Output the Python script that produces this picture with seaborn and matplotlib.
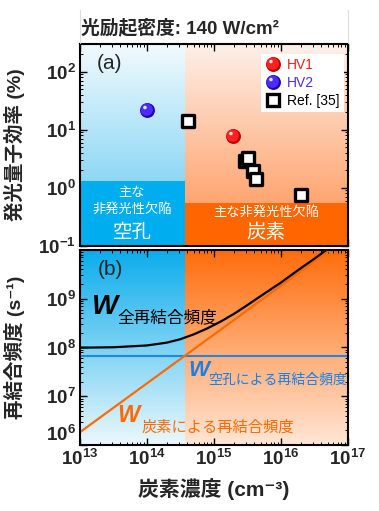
import numpy as np
import matplotlib
matplotlib.use('Agg')
import matplotlib.pyplot as plt
import seaborn as sns
from matplotlib.path import Path
from matplotlib.lines import Line2D
from matplotlib.legend_handler import HandlerTuple
from matplotlib.ticker import LogLocator, NullFormatter

# ---- panel (a): photoluminescence quantum efficiency ----
hv1_conc = [1.9e15]
hv1_eff = [7.8]
hv2_conc = [1.0e14]
hv2_eff = [22.0]
ref_conc = [4.1e14, 2.9e15, 3.2e15, 3.8e15, 4.3e15, 2.0e16]
ref_eff = [14.0, 2.9, 3.3, 1.95, 1.4, 0.76]

# ---- panel (b): recombination rates ----
total_conc = [1e13, 3.16e13, 1e14, 2e14, 3.16e14, 5e14, 7.9e14, 1.26e15, 2e15,
              3.16e15, 5.6e15, 1e16, 1.78e16, 3.16e16, 5.6e16]
total_rate = [9.9e7, 1.01e8, 1.10e8, 1.26e8, 1.48e8, 1.86e8, 2.45e8, 3.4e8, 4.9e8,
              7.4e8, 1.26e9, 2.14e9, 3.8e9, 6.6e9, 1.17e10]
vac_conc = [1e13, 1e17]
vac_rate = [6.8e7, 6.8e7]
carbon_conc = [1e13, 5.6e16]
carbon_rate = [1.84e6, 1.03e10]

boundary_conc = 3.7e14   # vacancy dominated | carbon dominated
vac_box_top = 1.3
carbon_box_top = 0.55

x_ticks = [1e13, 1e14, 1e15, 1e16, 1e17]
x_labels = [r'$\mathbf{10^{13}}$', r'$\mathbf{10^{14}}$', r'$\mathbf{10^{15}}$',
            r'$\mathbf{10^{16}}$', r'$\mathbf{10^{17}}$']
ya_ticks = [1e-1, 1e0, 1e1, 1e2]
ya_labels = [r'$\mathbf{10^{-1}}$', r'$\mathbf{10^{0}}$', r'$\mathbf{10^{1}}$', r'$\mathbf{10^{2}}$']
yb_ticks = [1e6, 1e7, 1e8, 1e9]
yb_labels = [r'$\mathbf{10^{6}}$', r'$\mathbf{10^{7}}$', r'$\mathbf{10^{8}}$', r'$\mathbf{10^{9}}$']

sns.set_style('ticks')
plt.rcParams['font.family'] = ['Liberation Sans', 'Noto Sans CJK JP', 'DejaVu Sans']
plt.rcParams['mathtext.fontset'] = 'custom'
plt.rcParams['mathtext.bf'] = 'Liberation Sans:bold'
plt.rcParams['mathtext.rm'] = 'Liberation Sans'
plt.rcParams['mathtext.it'] = 'Liberation Sans:italic'

BLUE = '#00aeef'
ORANGE = '#ff6600'
XLIM = (1e13, 1e17)

fig = plt.figure(figsize=(3.79, 5.11), dpi=100)
ax_a = fig.add_axes([0.211, 0.519, 0.707, 0.395])
ax_b = fig.add_axes([0.211, 0.129, 0.707, 0.382])

bf = (np.log10(boundary_conc) - np.log10(XLIM[0])) / (np.log10(XLIM[1]) - np.log10(XLIM[0]))


def gradient(ax, x0, x1, top, bottom):
    t = np.linspace(0, 1, 256)[:, None, None]
    img = (np.array(top)[None, None, :] * (1 - t) + np.array(bottom)[None, None, :] * t) / 255.0
    ax.imshow(img, extent=[x0, x1, 0, 1], transform=ax.transAxes, aspect='auto',
              zorder=0, interpolation='bilinear')


def disc(cx, cy, r):
    anchor = Path([(-1, -1), (1, 1)], [Path.MOVETO, Path.MOVETO])
    return Path.make_compound_path(anchor, Path.circle((cx, cy), r))


shade = disc(-0.12, 0.12, 0.84)
shine = disc(-0.34, 0.40, 0.24)


def sphere(ax, x, y, dark, light, s=115):
    sns.scatterplot(x=x, y=y, ax=ax, s=s, color=dark, marker='o', linewidth=0, zorder=4)
    sns.scatterplot(x=x, y=y, ax=ax, s=s, color=light, marker=shade, linewidth=0, zorder=5)
    sns.scatterplot(x=x, y=y, ax=ax, s=s, color='white', marker=shine, linewidth=0,
                    alpha=0.85, zorder=6)


for ax in (ax_a, ax_b):
    ax.set_xscale('log')
    ax.set_yscale('log')
    ax.set_autoscale_on(False)

ax_a.set_xlim(*XLIM)
ax_a.set_ylim(0.1, 300)
ax_b.set_xlim(*XLIM)
ax_b.set_ylim(1e6, 1e10)

# ---- backgrounds ----
gradient(ax_a, 0, bf, (242, 250, 254), (95, 200, 240))
gradient(ax_a, bf, 1, (253, 240, 233), (255, 145, 80))
ax_a.fill_between([XLIM[0], boundary_conc], 0.1, vac_box_top, color=BLUE, lw=0, zorder=1)
ax_a.fill_between([boundary_conc, XLIM[1]], 0.1, carbon_box_top, color=ORANGE, lw=0, zorder=1)

gradient(ax_b, 0, bf, (10, 172, 236), (236, 248, 253))
gradient(ax_b, bf, 1, (255, 108, 10), (255, 230, 214))

# ---- panel (a) data ----
sphere(ax_a, hv1_conc, hv1_eff, '#c00000', '#ff2020')
sphere(ax_a, hv2_conc, hv2_eff, '#2400b0', '#4a2cff')
sns.scatterplot(x=ref_conc, y=ref_eff, ax=ax_a, marker='s', s=85, color='white',
                edgecolor='black', linewidth=2.4, zorder=4)

ms = np.sqrt(115)
h_hv1 = (Line2D([], [], ls='', marker='o', ms=ms, mfc='#c00000', mec='none'),
         Line2D([], [], ls='', marker=shade, ms=ms, mfc='#ff2020', mec='none'),
         Line2D([], [], ls='', marker=shine, ms=ms, mfc='white', mec='none', alpha=0.85))
h_hv2 = (Line2D([], [], ls='', marker='o', ms=ms, mfc='#2400b0', mec='none'),
         Line2D([], [], ls='', marker=shade, ms=ms, mfc='#4a2cff', mec='none'),
         Line2D([], [], ls='', marker=shine, ms=ms, mfc='white', mec='none', alpha=0.85))
h_ref = Line2D([], [], ls='', marker='s', ms=9, mfc='white', mec='black', mew=2.4)
leg = ax_a.legend([h_hv1, h_hv2, h_ref], ['HV1', 'HV2', 'Ref. [35]'],
                  handler_map={tuple: HandlerTuple(ndivide=1)},
                  loc='upper right', bbox_to_anchor=(0.995, 0.965), fontsize=10,
                  frameon=True, fancybox=False, framealpha=1, edgecolor='none',
                  borderpad=0.3, labelspacing=0.3, handletextpad=0.4, handlelength=1.2,
                  borderaxespad=0.2)
leg.set_zorder(7)
for txt, c in zip(leg.get_texts(), ['#ff1a1a', '#4a2cff', 'black']):
    txt.set_color(c)

ax_a.text(0.112, 0.905, '(a)', transform=ax_a.transAxes, ha='center', va='center',
          fontsize=15, zorder=8)
ax_a.text(0.194, 0.262, '主な', transform=ax_a.transAxes, ha='center', va='center',
          fontsize=9.5, color='white', zorder=8)
ax_a.text(0.194, 0.178, '非発光性欠陥', transform=ax_a.transAxes, ha='center', va='center',
          fontsize=9.5, color='white', zorder=8)
ax_a.text(0.194, 0.062, '空孔', transform=ax_a.transAxes, ha='center', va='center',
          fontsize=14, color='white', zorder=8)
ax_a.text(0.694, 0.163, '主な非発光性欠陥', transform=ax_a.transAxes, ha='center', va='center',
          fontsize=9.5, color='white', zorder=8)
ax_a.text(0.694, 0.062, '炭素', transform=ax_a.transAxes, ha='center', va='center',
          fontsize=14, color='white', zorder=8)

# ---- panel (b) lines ----
sns.lineplot(x=vac_conc, y=vac_rate, ax=ax_b, color='#1f86e6', lw=1.5, zorder=3)
sns.lineplot(x=carbon_conc, y=carbon_rate, ax=ax_b, color='#ff6a00', lw=1.6, zorder=3)
sns.lineplot(x=total_conc, y=total_rate, ax=ax_b, color='black', lw=1.6, zorder=4)

ax_b.text(0.112, 0.897, '(b)', transform=ax_b.transAxes, ha='center', va='center',
          fontsize=15, zorder=8)
ax_b.text(0.045, 0.705, 'W', transform=ax_b.transAxes, ha='left', va='center',
          fontsize=20, fontweight='bold', fontstyle='italic', color='black', zorder=8)
ax_b.text(0.140, 0.655, '全再結合頻度', transform=ax_b.transAxes, ha='left', va='center',
          fontsize=12, color='black', zorder=8)
ax_b.text(0.405, 0.382, 'W', transform=ax_b.transAxes, ha='left', va='center',
          fontsize=16, fontweight='bold', fontstyle='italic', color='#1a7fe6', zorder=8)
ax_b.text(0.478, 0.335, '空孔による再結合頻度', transform=ax_b.transAxes, ha='left', va='center',
          fontsize=10, color='#1a7fe6', zorder=8)
ax_b.text(0.138, 0.150, 'W', transform=ax_b.transAxes, ha='left', va='center',
          fontsize=17, fontweight='bold', fontstyle='italic', color='#ff6a00', zorder=8)
ax_b.text(0.228, 0.092, '炭素による再結合頻度', transform=ax_b.transAxes, ha='left', va='center',
          fontsize=11, color='#ff6a00', zorder=8)

# ---- axes styling ----
for ax in (ax_a, ax_b):
    for sp in ax.spines.values():
        sp.set_linewidth(1.5)
        sp.set_color('black')
        sp.set_zorder(10)
    ax.xaxis.set_minor_locator(LogLocator(base=10, subs=np.arange(2, 10), numticks=20))
    ax.yaxis.set_minor_locator(LogLocator(base=10, subs=np.arange(2, 10), numticks=20))
    ax.xaxis.set_minor_formatter(NullFormatter())
    ax.yaxis.set_minor_formatter(NullFormatter())
    ax.tick_params(which='both', direction='in', top=True, right=True, color='black')
    ax.tick_params(which='major', length=5, width=1.0, labelsize=13.5, pad=3)
    ax.tick_params(which='minor', length=2.5, width=0.7)
    ax.grid(False)

ax_a.set_xticks(x_ticks)
ax_a.set_xticklabels([])
ax_a.set_yticks(ya_ticks)
ax_a.set_yticklabels(ya_labels)
ax_b.set_xticks(x_ticks)
ax_b.set_xticklabels(x_labels)
ax_b.set_yticks(yb_ticks)
ax_b.set_yticklabels(yb_labels)
ax_b.get_yticklabels()[0].set_verticalalignment('bottom')
ax_a.set_xlim(*XLIM)
ax_a.set_ylim(0.1, 300)
ax_b.set_xlim(*XLIM)
ax_b.set_ylim(1e6, 1e10)

ax_a.set_ylabel('発光量子効率 (%)', fontsize=14, fontweight='bold')
ax_a.yaxis.set_label_coords(-0.205, 0.5)
ax_b.set_ylabel('再結合頻度 (s⁻¹)', fontsize=14, fontweight='bold')
ax_b.yaxis.set_label_coords(-0.205, 0.5)
ax_b.set_xlabel('炭素濃度 (cm⁻³)', fontsize=15, fontweight='bold', labelpad=6)

fig.text(0.213, 1 - 28 / 511, '光励起密度: 140 W/cm²', ha='left', va='center',
         fontsize=13.5, fontweight='bold')
for xf in (0.211, 0.918):
    fig.add_artist(Line2D([xf, xf], [1 - 43 / 511, 1 - 10 / 511], color='#dddddd', lw=0.8))

fig.savefig('out.png', dpi=100)
